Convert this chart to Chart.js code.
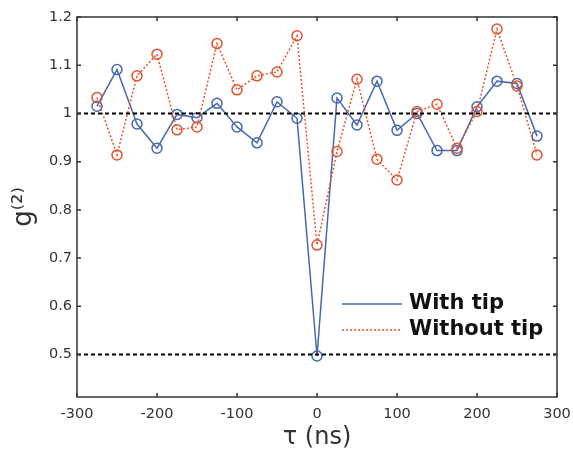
<!DOCTYPE html>
<html>
<head>
<meta charset="utf-8">
<script src="https://cdn.jsdelivr.net/npm/chart.js@4"></script>
<style>
  html, body { margin: 0; padding: 0; background: #fff; }
  #wrap { width: 573px; height: 453px; }
</style>
</head>
<body>
<div id="wrap"><canvas id="myChart" width="573" height="453"></canvas></div>
<script>
// delay tau (ns)
var tau = [-275, -250, -225, -200, -175, -150, -125, -100, -75, -50, -25, 0,
           25, 50, 75, 100, 125, 150, 175, 200, 225, 250, 275];
var withTip = [1.015, 1.091, 0.978, 0.928, 0.998, 0.991, 1.021, 0.972, 0.939, 1.024, 0.990, 0.497,
               1.032, 0.976, 1.067, 0.965, 1.000, 0.923, 0.923, 1.014, 1.067, 1.062, 0.953];
var withoutTip = [1.033, 0.914, 1.078, 1.123, 0.966, 0.972, 1.145, 1.049, 1.078, 1.086, 1.161, 0.727,
                  0.921, 1.071, 0.905, 0.862, 1.004, 1.019, 0.928, 1.004, 1.175, 1.057, 0.914];
var refLevels = [1, 0.5];
var xTicks = [-300, -200, -100, 0, 100, 200, 300];
var yTicks = [0.5, 0.6, 0.7, 0.8, 0.9, 1.0, 1.1, 1.2];
var seriesNames = ['With tip', 'Without tip'];

var blue = '#4668ad';
var orange = '#e5532c';
var font = 'DejaVu Sans';

function pts(ys) {
  return tau.map(function (t, i) { return {x: t, y: ys[i]}; });
}

var datasets = [];
refLevels.forEach(function (lv) {
  datasets.push({
    data: [{x: xTicks[0], y: lv}, {x: xTicks[xTicks.length - 1], y: lv}],
    borderColor: '#000', borderWidth: 2, borderDash: [4, 3],
    pointRadius: 0, order: 0
  });
});
datasets.push({
  label: seriesNames[0], data: pts(withTip),
  borderColor: blue, borderWidth: 1.5,
  pointRadius: 5, pointBorderWidth: 1.5, pointBorderColor: blue,
  pointBackgroundColor: 'rgba(0,0,0,0)', order: 2
});
datasets.push({
  label: seriesNames[1], data: pts(withoutTip),
  borderColor: orange, borderWidth: 1.5, borderDash: [2, 2],
  pointRadius: 5, pointBorderWidth: 1.5, pointBorderColor: orange,
  pointBackgroundColor: 'rgba(0,0,0,0)', order: 1
});

// box frame with inward ticks, like the matlab style
var framePlugin = {
  id: 'frame',
  afterDraw: function (chart) {
    var c = chart.ctx, a = chart.chartArea;
    var xs = chart.scales.x, ys = chart.scales.y;
    c.save();
    c.strokeStyle = '#333';
    c.lineWidth = 1.5;
    c.strokeRect(a.left, a.top, a.right - a.left, a.bottom - a.top);
    c.beginPath();
    xTicks.forEach(function (v) {
      var px = xs.getPixelForValue(v);
      c.moveTo(px, a.bottom); c.lineTo(px, a.bottom - 4);
      c.moveTo(px, a.top); c.lineTo(px, a.top + 4);
    });
    yTicks.forEach(function (v) {
      var py = ys.getPixelForValue(v);
      c.moveTo(a.left, py); c.lineTo(a.left + 4, py);
      c.moveTo(a.right, py); c.lineTo(a.right - 4, py);
    });
    c.stroke();

    // legend
    var lx = 342, ly = 304;
    c.lineWidth = 1.5;
    c.strokeStyle = blue;
    c.setLineDash([]);
    c.beginPath(); c.moveTo(lx, ly); c.lineTo(lx + 60, ly); c.stroke();
    c.strokeStyle = orange;
    c.setLineDash([2, 2]);
    c.beginPath(); c.moveTo(lx, ly + 26); c.lineTo(lx + 60, ly + 26); c.stroke();
    c.setLineDash([]);
    c.fillStyle = '#111';
    c.font = 'bold 21px "' + font + '"';
    c.textBaseline = 'middle';
    c.fillText(seriesNames[0], lx + 67, ly);
    c.fillText(seriesNames[1], lx + 67, ly + 26);
    c.restore();
  }
};

var ctx = document.getElementById('myChart');

const cfg = {
  type: 'line',
  data: { datasets: datasets },
  options: {
    responsive: false,
    animation: false,
    layout: { padding: { top: 17, right: 16, left: 0, bottom: 0 } },
    plugins: { legend: { display: false }, tooltip: { enabled: false } },
    scales: {
      x: {
        type: 'linear', min: -300, max: 300,
        grid: { display: false, drawTicks: false },
        border: { display: false },
        afterBuildTicks: function (s) { s.ticks = xTicks.map(function (v) { return {value: v}; }); },
        afterFit: function (s) { s.height = 56; s.paddingLeft = 0; s.paddingRight = 0; },
        ticks: { color: '#333', padding: 9, maxRotation: 0, font: { family: font, size: 14.5 } },
        title: { display: true, text: 'τ (ns)', color: '#333',
                 font: { family: font, size: 24 }, padding: { top: 0, bottom: 1 } }
      },
      y: {
        min: 0.412, max: 1.2,
        grid: { display: false, drawTicks: false },
        border: { display: false },
        afterBuildTicks: function (s) { s.ticks = yTicks.map(function (v) { return {value: v}; }); },
        afterFit: function (s) { s.width = 77; s.paddingTop = 0; s.paddingBottom = 0; },
        ticks: {
          color: '#333', padding: 5, font: { family: font, size: 14.5 },
          callback: function (v) { return String(Number(v.toFixed(1))); }
        },
        title: { display: true, text: 'g⁽²⁾', color: '#333',
                 font: { family: font, size: 26 }, padding: { top: 9, bottom: 0 } }
      }
    }
  },
  plugins: [framePlugin]
};

new Chart(ctx, cfg);
</script>
</body>
</html>
